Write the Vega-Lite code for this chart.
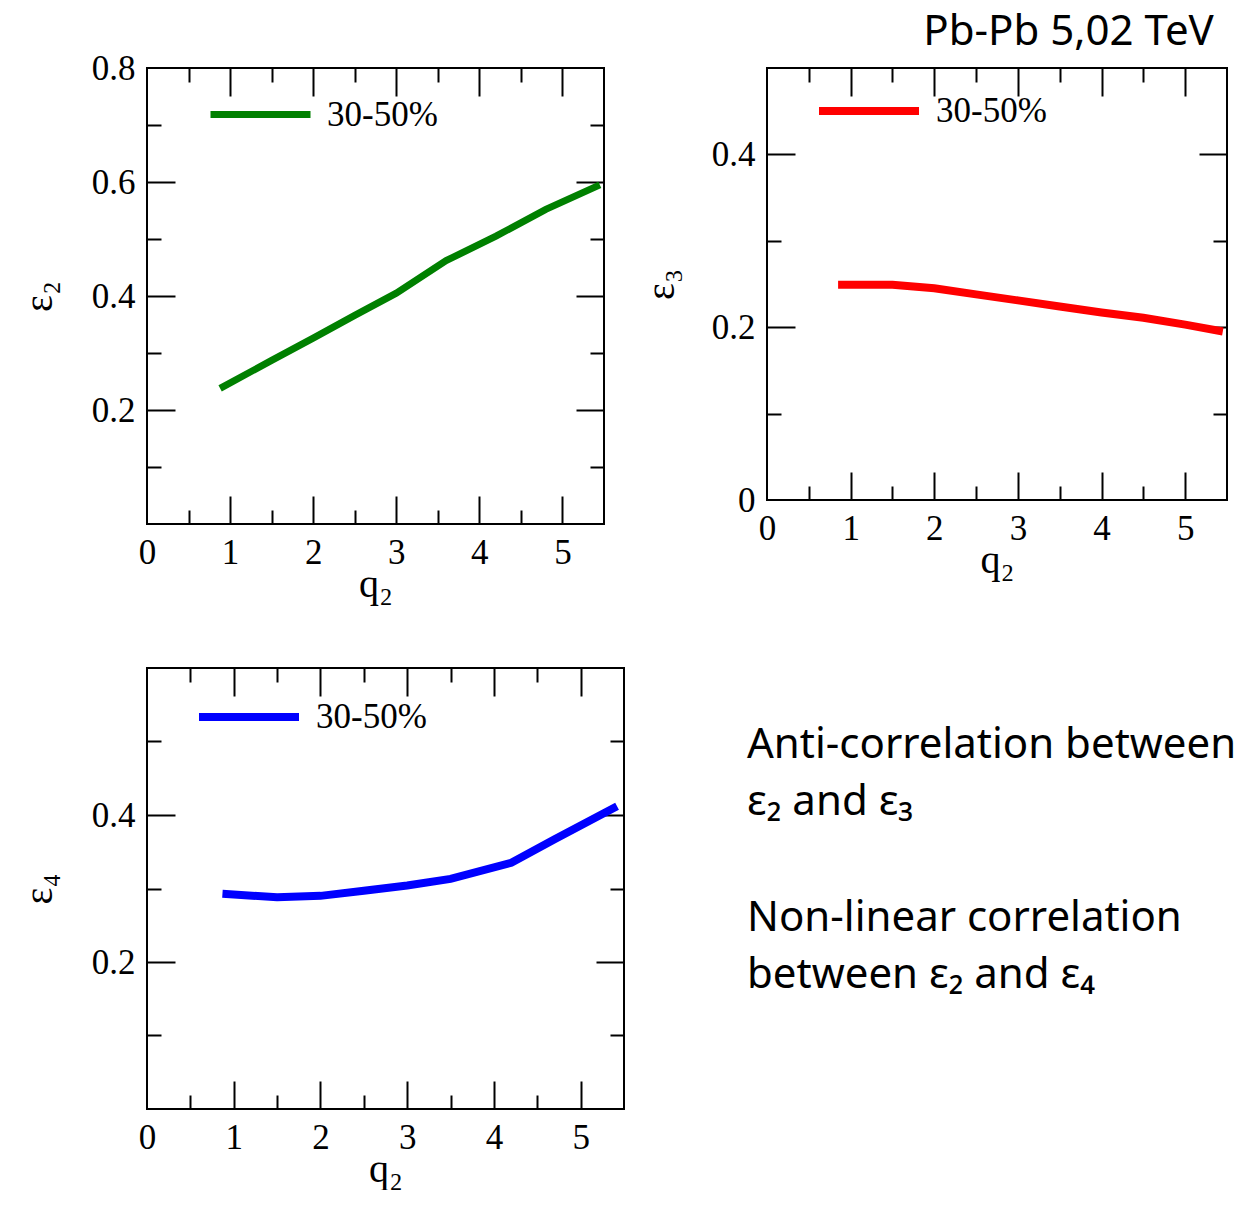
{
  "$schema": "https://vega.github.io/schema/vega-lite/v6.json",
  "background": "white",
  "padding": {"left": 18, "top": 10, "right": 0, "bottom": 0},
  "config": {
    "view": {"stroke": "black", "strokeWidth": 2},
    "axis": {"grid": false, "domain": false, "labelColor": "black", "titleColor": "black", "tickColor": "black", "tickWidth": 2, "labelFont": "Liberation Serif", "labelFontSize": 35, "titleFont": "Liberation Serif", "titleFontSize": 40, "titleFontWeight": "normal", "labelFlush": false, "labelOverlap": false, "labelBound": false, "zindex": 1}
  },
  "resolve": {"scale": {"color": "independent"}, "legend": {"color": "independent"}},
  "spacing": 57,
  "vconcat": [
    {
      "bounds": "flush",
      "spacing": 163,
      "resolve": {"scale": {"color": "independent"}, "legend": {"color": "independent"}},
      "hconcat": [
        {
          "width": 457, "height": 456,
          "data": {"values": [
            {"q2": 0.88, "e": 0.238, "c": "30-50%"},
            {"q2": 1.5, "e": 0.287, "c": "30-50%"},
            {"q2": 2.0, "e": 0.326, "c": "30-50%"},
            {"q2": 2.5, "e": 0.366, "c": "30-50%"},
            {"q2": 3.0, "e": 0.405, "c": "30-50%"},
            {"q2": 3.6, "e": 0.462, "c": "30-50%"},
            {"q2": 4.2, "e": 0.505, "c": "30-50%"},
            {"q2": 4.8, "e": 0.552, "c": "30-50%"},
            {"q2": 5.45, "e": 0.595, "c": "30-50%"}
          ]},
          "resolve": {"axis": {"x": "independent", "y": "independent"}},
          "layer": [
            {
              "mark": {"type": "line", "strokeWidth": 7},
              "encoding": {
                "x": {"field": "q2", "type": "quantitative", "scale": {"domain": [0, 5.5], "nice": false, "zero": false}, "axis": {"orient": "bottom", "values": [0, 1, 2, 3, 4, 5], "format": "~g", "ticks": false, "labelPadding": 11, "title": "q₂", "titlePadding": -6}},
                "y": {"field": "e", "type": "quantitative", "scale": {"domain": [0, 0.8], "nice": false, "zero": false}, "axis": {"orient": "left", "values": [0.2, 0.4, 0.6, 0.8], "format": "~g", "ticks": false, "labelPadding": 12, "title": "ε₂", "titlePadding": 32}},
                "color": {"field": "c", "type": "nominal", "scale": {"domain": ["30-50%"], "range": ["#008000"]}, "legend": {"orient": "none", "legendX": 60, "legendY": -7, "title": null, "padding": 0, "symbolType": "stroke", "symbolSize": 10000, "symbolStrokeWidth": 7, "labelFont": "Liberation Serif", "labelFontSize": 35, "labelColor": "black", "labelOffset": 13}}
              }
            },
            {
              "mark": {"type": "line", "opacity": 0},
              "encoding": {
                "x": {"field": "q2", "type": "quantitative", "scale": {"domain": [0, 5.5], "nice": false, "zero": false}, "axis": {"orient": "bottom", "values": [1, 2, 3, 4, 5], "labels": false, "tickSize": 28, "offset": -28, "title": null}},
                "y": {"field": "e", "type": "quantitative", "scale": {"domain": [0, 0.8], "nice": false, "zero": false}, "axis": {"orient": "left", "values": [0.2, 0.4, 0.6], "labels": false, "tickSize": 28, "offset": -28, "title": null}}
              }
            },
            {
              "mark": {"type": "line", "opacity": 0},
              "encoding": {
                "x": {"field": "q2", "type": "quantitative", "scale": {"domain": [0, 5.5], "nice": false, "zero": false}, "axis": {"orient": "bottom", "values": [0.5, 1.5, 2.5, 3.5, 4.5], "labels": false, "tickSize": 14, "offset": -14, "title": null}},
                "y": {"field": "e", "type": "quantitative", "scale": {"domain": [0, 0.8], "nice": false, "zero": false}, "axis": {"orient": "left", "values": [0.1, 0.3, 0.5, 0.7], "labels": false, "tickSize": 14, "offset": -14, "title": null}}
              }
            },
            {
              "mark": {"type": "line", "opacity": 0},
              "encoding": {
                "x": {"field": "q2", "type": "quantitative", "scale": {"domain": [0, 5.5], "nice": false, "zero": false}, "axis": {"orient": "top", "values": [1, 2, 3, 4, 5], "labels": false, "tickSize": 28, "offset": -28, "title": null}},
                "y": {"field": "e", "type": "quantitative", "scale": {"domain": [0, 0.8], "nice": false, "zero": false}, "axis": {"orient": "right", "values": [0.2, 0.4, 0.6], "labels": false, "tickSize": 28, "offset": -28, "title": null}}
              }
            },
            {
              "mark": {"type": "line", "opacity": 0},
              "encoding": {
                "x": {"field": "q2", "type": "quantitative", "scale": {"domain": [0, 5.5], "nice": false, "zero": false}, "axis": {"orient": "top", "values": [0.5, 1.5, 2.5, 3.5, 4.5], "labels": false, "tickSize": 14, "offset": -14, "title": null}},
                "y": {"field": "e", "type": "quantitative", "scale": {"domain": [0, 0.8], "nice": false, "zero": false}, "axis": {"orient": "right", "values": [0.1, 0.3, 0.5, 0.7], "labels": false, "tickSize": 14, "offset": -14, "title": null}}
              }
            }
          ]
        },
        {
          "width": 460, "height": 432,
          "title": {"text": "Pb-Pb 5,02 TeV", "anchor": "end", "font": "Noto Sans", "fontSize": 42, "fontWeight": "normal", "color": "black", "offset": 3, "dx": -25},
          "data": {"values": [
            {"q2": 0.85, "e": 0.249, "c": "30-50%"},
            {"q2": 1.5, "e": 0.249, "c": "30-50%"},
            {"q2": 2.0, "e": 0.245, "c": "30-50%"},
            {"q2": 2.5, "e": 0.238, "c": "30-50%"},
            {"q2": 3.0, "e": 0.231, "c": "30-50%"},
            {"q2": 3.5, "e": 0.224, "c": "30-50%"},
            {"q2": 4.0, "e": 0.217, "c": "30-50%"},
            {"q2": 4.5, "e": 0.211, "c": "30-50%"},
            {"q2": 5.0, "e": 0.203, "c": "30-50%"},
            {"q2": 5.45, "e": 0.195, "c": "30-50%"}
          ]},
          "resolve": {"axis": {"x": "independent", "y": "independent"}},
          "layer": [
            {
              "mark": {"type": "line", "strokeWidth": 8},
              "encoding": {
                "x": {"field": "q2", "type": "quantitative", "scale": {"domain": [0, 5.5], "nice": false, "zero": false}, "axis": {"orient": "bottom", "values": [0, 1, 2, 3, 4, 5], "format": "~g", "ticks": false, "labelPadding": 11, "title": "q₂", "titlePadding": -6}},
                "y": {"field": "e", "type": "quantitative", "scale": {"domain": [0, 0.5], "nice": false, "zero": false}, "axis": {"orient": "left", "values": [0, 0.2, 0.4], "format": "~g", "ticks": false, "labelPadding": 12, "title": "ε₃", "titlePadding": 30}},
                "color": {"field": "c", "type": "nominal", "scale": {"domain": ["30-50%"], "range": ["#ff0000"]}, "legend": {"orient": "none", "legendX": 48, "legendY": -11, "title": null, "padding": 0, "symbolType": "stroke", "symbolSize": 10000, "symbolStrokeWidth": 8, "labelFont": "Liberation Serif", "labelFontSize": 35, "labelColor": "black", "labelOffset": 13}}
              }
            },
            {
              "mark": {"type": "line", "opacity": 0},
              "encoding": {
                "x": {"field": "q2", "type": "quantitative", "scale": {"domain": [0, 5.5], "nice": false, "zero": false}, "axis": {"orient": "bottom", "values": [1, 2, 3, 4, 5], "labels": false, "tickSize": 28, "offset": -28, "title": null}},
                "y": {"field": "e", "type": "quantitative", "scale": {"domain": [0, 0.5], "nice": false, "zero": false}, "axis": {"orient": "left", "values": [0.2, 0.4], "labels": false, "tickSize": 28, "offset": -28, "title": null}}
              }
            },
            {
              "mark": {"type": "line", "opacity": 0},
              "encoding": {
                "x": {"field": "q2", "type": "quantitative", "scale": {"domain": [0, 5.5], "nice": false, "zero": false}, "axis": {"orient": "bottom", "values": [0.5, 1.5, 2.5, 3.5, 4.5], "labels": false, "tickSize": 14, "offset": -14, "title": null}},
                "y": {"field": "e", "type": "quantitative", "scale": {"domain": [0, 0.5], "nice": false, "zero": false}, "axis": {"orient": "left", "values": [0.1, 0.3], "labels": false, "tickSize": 14, "offset": -14, "title": null}}
              }
            },
            {
              "mark": {"type": "line", "opacity": 0},
              "encoding": {
                "x": {"field": "q2", "type": "quantitative", "scale": {"domain": [0, 5.5], "nice": false, "zero": false}, "axis": {"orient": "top", "values": [1, 2, 3, 4, 5], "labels": false, "tickSize": 28, "offset": -28, "title": null}},
                "y": {"field": "e", "type": "quantitative", "scale": {"domain": [0, 0.5], "nice": false, "zero": false}, "axis": {"orient": "right", "values": [0.2, 0.4], "labels": false, "tickSize": 28, "offset": -28, "title": null}}
              }
            },
            {
              "mark": {"type": "line", "opacity": 0},
              "encoding": {
                "x": {"field": "q2", "type": "quantitative", "scale": {"domain": [0, 5.5], "nice": false, "zero": false}, "axis": {"orient": "top", "values": [0.5, 1.5, 2.5, 3.5, 4.5], "labels": false, "tickSize": 14, "offset": -14, "title": null}},
                "y": {"field": "e", "type": "quantitative", "scale": {"domain": [0, 0.5], "nice": false, "zero": false}, "axis": {"orient": "right", "values": [0.1, 0.3], "labels": false, "tickSize": 14, "offset": -14, "title": null}}
              }
            }
          ]
        }
      ]
    },
    {
      "bounds": "flush",
      "spacing": 123,
      "resolve": {"scale": {"color": "independent"}, "legend": {"color": "independent"}},
      "hconcat": [
        {
          "width": 477, "height": 441,
          "data": {"values": [
            {"q2": 0.87, "e": 0.293, "c": "30-50%"},
            {"q2": 1.5, "e": 0.288, "c": "30-50%"},
            {"q2": 2.0, "e": 0.290, "c": "30-50%"},
            {"q2": 2.5, "e": 0.297, "c": "30-50%"},
            {"q2": 3.0, "e": 0.304, "c": "30-50%"},
            {"q2": 3.5, "e": 0.313, "c": "30-50%"},
            {"q2": 4.2, "e": 0.335, "c": "30-50%"},
            {"q2": 4.7, "e": 0.367, "c": "30-50%"},
            {"q2": 5.42, "e": 0.412, "c": "30-50%"}
          ]},
          "resolve": {"axis": {"x": "independent", "y": "independent"}},
          "layer": [
            {
              "mark": {"type": "line", "strokeWidth": 8},
              "encoding": {
                "x": {"field": "q2", "type": "quantitative", "scale": {"domain": [0, 5.5], "nice": false, "zero": false}, "axis": {"orient": "bottom", "values": [0, 1, 2, 3, 4, 5], "format": "~g", "ticks": false, "labelPadding": 11, "title": "q₂", "titlePadding": -6}},
                "y": {"field": "e", "type": "quantitative", "scale": {"domain": [0, 0.6], "nice": false, "zero": false}, "axis": {"orient": "left", "values": [0.2, 0.4], "format": "~g", "ticks": false, "labelPadding": 12, "title": "ε₄", "titlePadding": 32}},
                "color": {"field": "c", "type": "nominal", "scale": {"domain": ["30-50%"], "range": ["#0000ff"]}, "legend": {"orient": "none", "legendX": 48, "legendY": -5, "title": null, "padding": 0, "symbolType": "stroke", "symbolSize": 10000, "symbolStrokeWidth": 8, "labelFont": "Liberation Serif", "labelFontSize": 35, "labelColor": "black", "labelOffset": 13}}
              }
            },
            {
              "mark": {"type": "line", "opacity": 0},
              "encoding": {
                "x": {"field": "q2", "type": "quantitative", "scale": {"domain": [0, 5.5], "nice": false, "zero": false}, "axis": {"orient": "bottom", "values": [1, 2, 3, 4, 5], "labels": false, "tickSize": 28, "offset": -28, "title": null}},
                "y": {"field": "e", "type": "quantitative", "scale": {"domain": [0, 0.6], "nice": false, "zero": false}, "axis": {"orient": "left", "values": [0.2, 0.4], "labels": false, "tickSize": 28, "offset": -28, "title": null}}
              }
            },
            {
              "mark": {"type": "line", "opacity": 0},
              "encoding": {
                "x": {"field": "q2", "type": "quantitative", "scale": {"domain": [0, 5.5], "nice": false, "zero": false}, "axis": {"orient": "bottom", "values": [0.5, 1.5, 2.5, 3.5, 4.5], "labels": false, "tickSize": 14, "offset": -14, "title": null}},
                "y": {"field": "e", "type": "quantitative", "scale": {"domain": [0, 0.6], "nice": false, "zero": false}, "axis": {"orient": "left", "values": [0.1, 0.3, 0.5], "labels": false, "tickSize": 14, "offset": -14, "title": null}}
              }
            },
            {
              "mark": {"type": "line", "opacity": 0},
              "encoding": {
                "x": {"field": "q2", "type": "quantitative", "scale": {"domain": [0, 5.5], "nice": false, "zero": false}, "axis": {"orient": "top", "values": [1, 2, 3, 4, 5], "labels": false, "tickSize": 28, "offset": -28, "title": null}},
                "y": {"field": "e", "type": "quantitative", "scale": {"domain": [0, 0.6], "nice": false, "zero": false}, "axis": {"orient": "right", "values": [0.2, 0.4], "labels": false, "tickSize": 28, "offset": -28, "title": null}}
              }
            },
            {
              "mark": {"type": "line", "opacity": 0},
              "encoding": {
                "x": {"field": "q2", "type": "quantitative", "scale": {"domain": [0, 5.5], "nice": false, "zero": false}, "axis": {"orient": "top", "values": [0.5, 1.5, 2.5, 3.5, 4.5], "labels": false, "tickSize": 14, "offset": -14, "title": null}},
                "y": {"field": "e", "type": "quantitative", "scale": {"domain": [0, 0.6], "nice": false, "zero": false}, "axis": {"orient": "right", "values": [0.1, 0.3, 0.5], "labels": false, "tickSize": 14, "offset": -14, "title": null}}
              }
            }
          ]
        },
        {
          "width": 490, "height": 441,
          "view": {"stroke": null},
          "data": {"values": [
            {"line": 1, "txt": "Anti-correlation between"},
            {"line": 2, "txt": "ε₂ and ε₃"},
            {"line": 4, "txt": "Non-linear correlation"},
            {"line": 5, "txt": "between ε₂ and ε₄"}
          ]},
          "mark": {"type": "text", "font": "Noto Sans", "fontSize": 42, "align": "left", "baseline": "alphabetic", "color": "black"},
          "encoding": {
            "x": {"value": 0},
            "y": {"field": "line", "type": "quantitative", "scale": {"domain": [-0.565, 7.104], "reverse": true, "nice": false, "zero": false}, "axis": null},
            "text": {"field": "txt", "type": "nominal"}
          }
        }
      ]
    }
  ]
}
